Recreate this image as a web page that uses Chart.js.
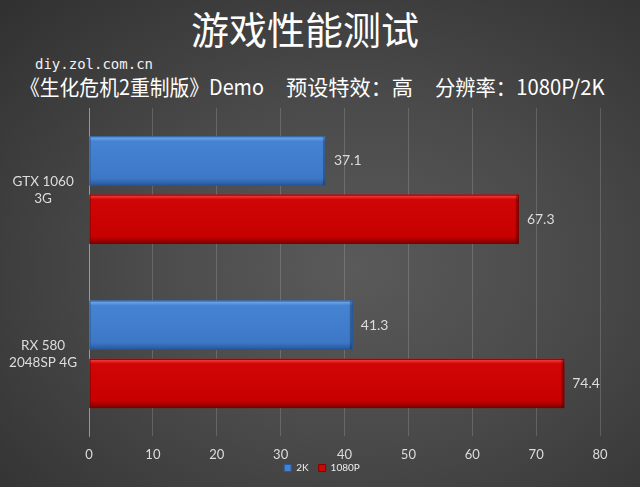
<!DOCTYPE html>
<html>
<head>
<meta charset="utf-8">
<script src="https://cdn.jsdelivr.net/npm/chart.js@4/dist/chart.umd.min.js"></script>
<style>
  html, body { margin: 0; padding: 0; }
  body {
    width: 640px; height: 487px; overflow: hidden; position: relative;
    background: radial-gradient(ellipse at 55% 55%, #5a5a5a 0%, #4a4a4a 45%, #303030 100%);
  }
  #wrap { position: absolute; left: 0; top: 0; width: 640px; height: 487px; }
  .txt { position: absolute; color: #fff; white-space: nowrap; line-height: 1; }
  #title { left: 0; width: 610px; top: 0px; text-align: center; font: 38px "Noto Sans CJK SC"; }
  #site { left: 35px; top: 56px; font: 14px "DejaVu Sans Mono"; color: #f2f2f2; }
  .sub { top: 71px; font: 21px "Noto Sans CJK SC"; transform-origin: left center; }
</style>
</head>
<body>
<div class="txt" id="title">游戏性能测试</div>
<div class="txt" id="site">diy.zol.com.cn</div>
<div class="txt sub" data-l="20" data-w="244">《生化危机2重制版》Demo</div>
<div class="txt sub" data-l="286" data-w="127">预设特效：高</div>
<div class="txt sub" data-l="435" data-w="170">分辨率：1080P/2K</div>
<div id="wrap"><canvas id="chart" width="640" height="487"></canvas></div>
<script>
/* ---------- data ---------- */
const cards = [["GTX 1060", "3G"], ["RX 580", "2048SP 4G"]];
const res2k = [37.1, 41.3];
const res1080 = [67.3, 74.4];
const seriesNames = ["2K", "1080P"];
const xTicks = [0, 10, 20, 30, 40, 50, 60, 70, 80];

/* ---------- subtitle pieces squeezed to width ---------- */
document.querySelectorAll(".sub").forEach(el => {
  el.style.left = el.dataset.l + "px";
  el.style.transform = "scaleX(" + (el.dataset.w / el.offsetWidth) + ")";
});

/* ---------- bevelled bar look ---------- */
const shades = [
  ["#7fb3ef", "#4583d3", "#3d78c6", "#27569a"],
  ["#ff4a4a", "#d00606", "#c70000", "#7c0000"]
];
const bevel = {
  id: "bevel",
  afterDatasetsDraw(chart) {
    const ctx = chart.ctx;
    ctx.save();
    chart.data.datasets.forEach((ds, i) => {
      const c = shades[i];
      chart.getDatasetMeta(i).data.forEach(bar => {
        const h = bar.height, top = bar.y - h / 2, w = bar.x - bar.base;
        const g = ctx.createLinearGradient(0, top, 0, top + h);
        g.addColorStop(0, c[0]);
        g.addColorStop(0.1, c[1]);
        g.addColorStop(0.85, c[2]);
        g.addColorStop(1, c[3]);
        ctx.fillStyle = g;
        ctx.fillRect(bar.base, top, w, h);
        ctx.fillStyle = "rgba(0,0,0,0.25)";
        ctx.fillRect(bar.x - 3, top, 3, h);
        ctx.strokeStyle = c[3];
        ctx.lineWidth = 1;
        ctx.strokeRect(bar.base + 0.5, top + 0.5, w - 1, h - 1);
      });
    });
    ctx.restore();
  }
};

/* ---------- value labels at bar ends ---------- */
const valueLabels = {
  id: "valueLabels",
  afterDatasetsDraw(chart) {
    const ctx = chart.ctx;
    ctx.save();
    ctx.font = "14px Lato";
    ctx.fillStyle = "#dcdcdc";
    ctx.textBaseline = "middle";
    chart.data.datasets.forEach((ds, i) => {
      chart.getDatasetMeta(i).data.forEach((bar, j) => {
        ctx.fillText(ds.data[j].toFixed(1), bar.x + 8, bar.y);
      });
    });
    ctx.restore();
  }
};

/* legend sits a little right of the padded area in the original */
const legendShift = {
  id: "legendShift",
  afterLayout(chart) {
    const lg = chart.legend;
    lg.left += 22;
    lg.right += 22;
    const dy = 468 - (lg.top + lg.bottom) / 2;
    lg.top += dy;
    lg.bottom += dy;
  }
};

new Chart(document.getElementById("chart"), {
  type: "bar",
  data: {
    labels: cards,
    datasets: [
      {
        label: seriesNames[0],
        data: res2k,
        backgroundColor: "#4282d4",
        borderColor: "#2c5a96",
        borderWidth: 1,
        categoryPercentage: 0.71,
        barPercentage: 0.845
      },
      {
        label: seriesNames[1],
        data: res1080,
        backgroundColor: "#cc0505",
        borderColor: "#8a0000",
        borderWidth: 1,
        categoryPercentage: 0.71,
        barPercentage: 0.845
      }
    ]
  },
  options: {
    indexAxis: "y",
    responsive: false,
    animation: false,
    layout: { padding: { top: 108, right: 40, left: 0, bottom: -17 } },
    plugins: {
      legend: {
        position: "bottom",
        labels: {
          color: "#eeeeee",
          font: { size: 10, family: "Lato" },
          boxWidth: 7,
          boxHeight: 7,
          padding: 10
        }
      },
      tooltip: { enabled: false }
    },
    scales: {
      x: {
        min: xTicks[0],
        max: xTicks[xTicks.length - 1],
        afterBuildTicks: s => { s.ticks = xTicks.map(v => ({ value: v })); },
        grid: { color: "rgba(255,255,255,0.16)", drawTicks: false },
        border: { display: false },
        ticks: { color: "#dddddd", font: { size: 13, family: "Lato" }, padding: 11 }
      },
      y: {
        afterFit: s => { s.width = 89; },
        grid: { display: false },
        border: { color: "rgba(255,255,255,0.35)" },
        ticks: {
          color: "#dddddd",
          font: { size: 13.5, family: "Lato", lineHeight: 1.3 },
          crossAlign: "center",
          padding: 4
        }
      }
    }
  },
  plugins: [bevel, valueLabels, legendShift]
});
</script>
</body>
</html>
